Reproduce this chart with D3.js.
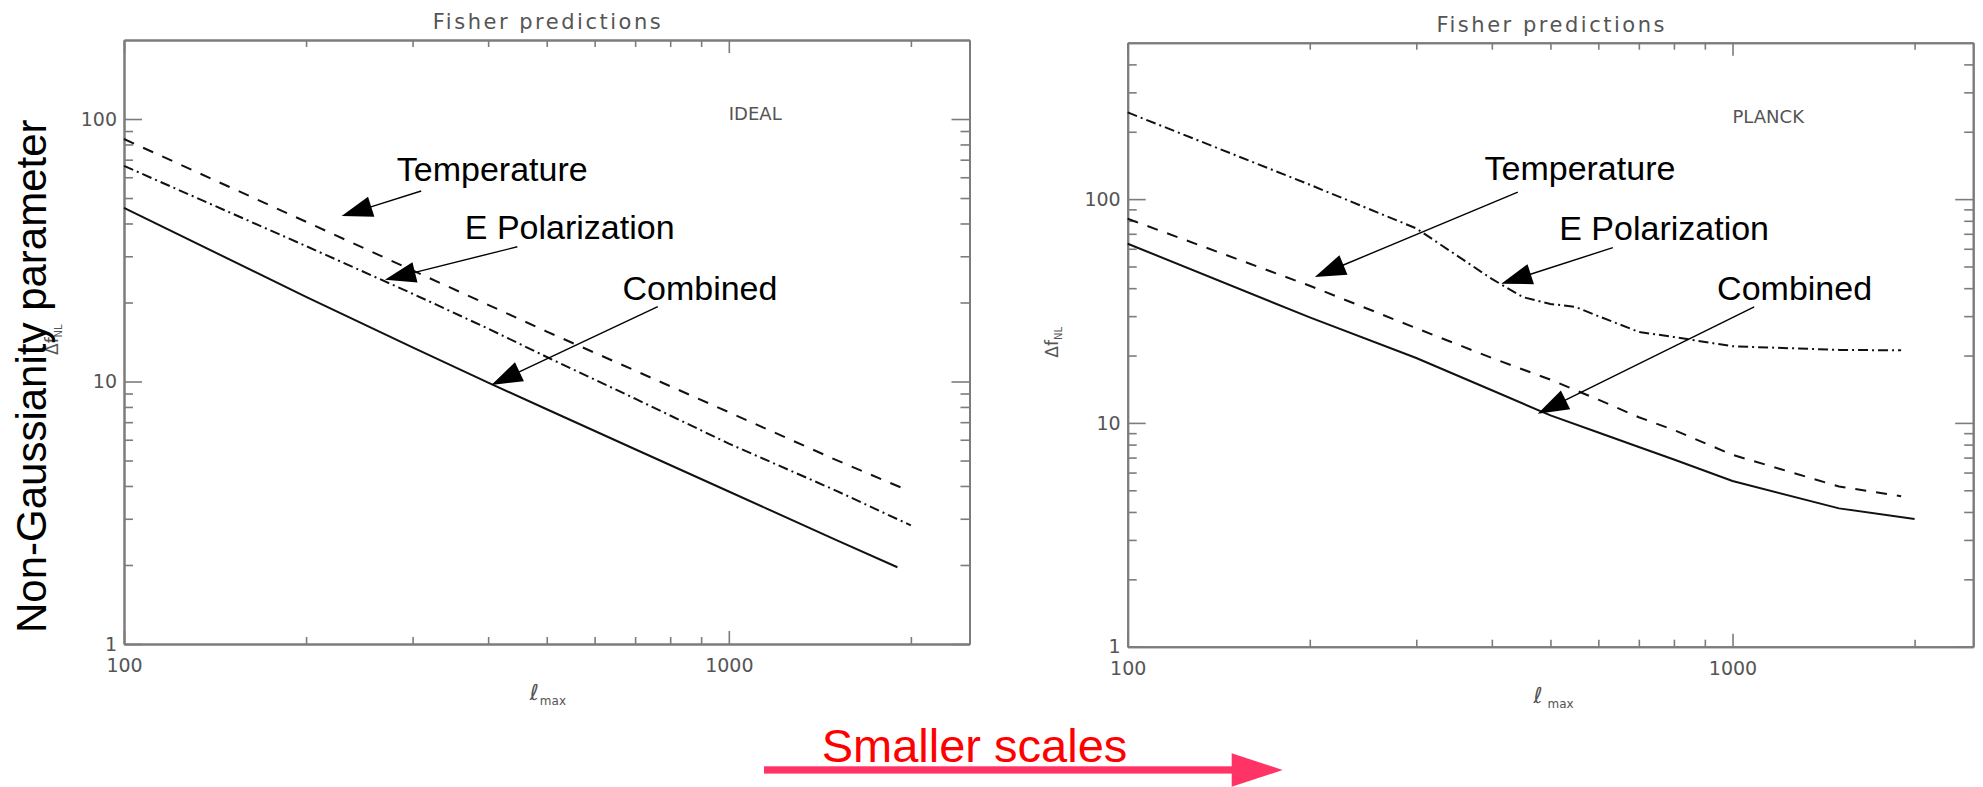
<!DOCTYPE html>
<html>
<head>
<meta charset="utf-8">
<script src="https://cdn.jsdelivr.net/npm/d3@7"></script>
<style>
  body { margin: 0; background: #fff; }
  svg { display: block; }
</style>
</head>
<body>
<svg id="fig" width="1983" height="787"></svg>
<script>
// ---------------- data: Fisher forecasts of the fNL error vs. l_max ----------------
// IDEAL experiment
const idealTempEll = [100, 200, 300, 400, 500, 700, 1000, 1500, 1950];
const idealTemp    = [83.9, 40.6, 26.5, 19.6, 15.5, 11.0, 7.64, 5.04, 3.9];
const idealEpolEll = [100, 200, 300, 400, 500, 700, 1000, 1500, 2000];
const idealEpol    = [66.3, 32.8, 21.6, 15.9, 12.4, 8.6, 5.8, 3.85, 2.83];
const idealCombEll = [100, 200, 300, 400, 500, 700, 1000, 1500, 1900];
const idealComb    = [45.9, 21.0, 13.5, 9.9, 7.84, 5.52, 3.81, 2.50, 1.96];

// PLANCK experiment
const planckTempEll = [100, 200, 300, 400, 500, 600, 700, 800, 1000, 1500, 1900];
const planckTemp    = [81.7, 41.0, 26.5, 19.5, 15.6, 12.7, 10.6, 9.3, 7.2, 5.2, 4.7];
const planckEpolEll = [100, 200, 300, 400, 450, 500, 550, 600, 700, 800, 1000, 1500, 1900];
const planckEpol    = [244, 116, 74, 44, 36.5, 34, 33, 30, 25.5, 24.2, 22, 21.2, 21.1];
const planckCombEll = [100, 200, 300, 400, 500, 600, 700, 800, 1000, 1500, 2000];
const planckComb    = [63.2, 29.6, 19.5, 14.0, 10.8, 9.06, 7.8, 6.86, 5.5, 4.15, 3.72];

// axis ticks
const xMajorTicks = [100, 1000];
const xMinorTicks = [200, 300, 400, 500, 600, 700, 800, 900, 2000];
const yMajorTicks = [1, 10, 100];
const idealYMinor  = [2, 3, 4, 5, 6, 7, 8, 9, 20, 30, 40, 50, 60, 70, 80, 90];
const planckYMinor = [2, 3, 4, 5, 6, 7, 8, 9, 20, 30, 40, 50, 60, 70, 80, 90, 200, 300, 400];

// annotation callouts: [label, text anchor (ell, value), arrow tail (ell, value), arrow tip (ell, value)]
const idealNotes = [
  ["Temperature",    [282.5, 57.9], [310, 53.2], [229, 42.7]],
  ["E Polarization", [366, 34.8],   [447, 32.6], [270, 24.4]],
  ["Combined",       [667, 20.5],   [763, 19.3], [405, 9.70]]
];
const planckNotes = [
  ["Temperature",    [389, 121.2], [441.6, 107.5], [203.9, 44.9]],
  ["E Polarization", [517, 65.4],  [634, 60.7],    [414.6, 41.9]],
  ["Combined",       [943, 35.3],  [1086, 33.0],   [476.4, 11.0]]
];

// ---------------- drawing ----------------
const svg = d3.select("#fig");
const AXIS = "#7c7c7c";
const LABEL = "#555";
const tickFont = "DejaVu Sans, sans-serif";
const noteFont = "Liberation Sans, Arial, sans-serif";

function arrow(g, tail, tip, headLen, headHalf, color, width) {
  const dx = tip[0] - tail[0], dy = tip[1] - tail[1];
  const len = Math.hypot(dx, dy);
  const ux = dx / len, uy = dy / len;
  const bx = tip[0] - ux * headLen, by = tip[1] - uy * headLen;
  g.append("line")
    .attr("x1", tail[0]).attr("y1", tail[1])
    .attr("x2", bx + ux * 2).attr("y2", by + uy * 2)
    .attr("stroke", color).attr("stroke-width", width);
  g.append("path")
    .attr("d", `M${tip[0]},${tip[1]}L${bx - uy * headHalf},${by + ux * headHalf}L${bx + uy * headHalf},${by - ux * headHalf}Z`)
    .attr("fill", color);
}

function drawPanel(cfg) {
  const W = cfg.w, H = cfg.h;
  const g = svg.append("g").attr("transform", `translate(${cfg.left},${cfg.top})`);

  const x = d3.scaleLog().domain([100, 2500]).range([0, W]);
  const y = d3.scaleLog().domain([1, cfg.yMax]).range([H, 0]);

  const fmt = d3.format("d");
  const styleAxis = sel => {
    sel.selectAll(".domain").attr("stroke", AXIS).attr("stroke-width", 2);
    sel.selectAll(".tick line").attr("stroke", AXIS).attr("stroke-width", 1.6);
    sel.selectAll(".tick text")
      .attr("fill", LABEL).attr("font-family", tickFont).attr("font-size", 19);
  };

  // left axis (labelled) + minor ticks
  g.append("g").call(d3.axisLeft(y).tickValues(yMajorTicks).tickSize(-18).tickSizeOuter(0)
      .tickPadding(7).tickFormat(fmt)).call(styleAxis);
  g.append("g").call(d3.axisLeft(y).tickValues(cfg.yMinor).tickSize(-9).tickSizeOuter(0)
      .tickFormat("")).call(styleAxis);
  // right axis mirror
  g.append("g").attr("transform", `translate(${W},0)`)
    .call(d3.axisRight(y).tickValues(yMajorTicks).tickSize(-18).tickSizeOuter(0).tickFormat(""))
    .call(styleAxis);
  g.append("g").attr("transform", `translate(${W},0)`)
    .call(d3.axisRight(y).tickValues(cfg.yMinor).tickSize(-9).tickSizeOuter(0).tickFormat(""))
    .call(styleAxis);
  // bottom axis (labelled)
  g.append("g").attr("transform", `translate(0,${H})`)
    .call(d3.axisBottom(x).tickValues(xMajorTicks).tickSize(-13).tickSizeOuter(0)
      .tickPadding(15).tickFormat(fmt)).call(styleAxis);
  g.append("g").attr("transform", `translate(0,${H})`)
    .call(d3.axisBottom(x).tickValues(xMinorTicks).tickSize(-7).tickSizeOuter(0).tickFormat(""))
    .call(styleAxis);
  // top axis mirror
  g.append("g")
    .call(d3.axisTop(x).tickValues(xMajorTicks).tickSize(-13).tickSizeOuter(0).tickFormat(""))
    .call(styleAxis);
  g.append("g")
    .call(d3.axisTop(x).tickValues(xMinorTicks).tickSize(-7).tickSizeOuter(0).tickFormat(""))
    .call(styleAxis);

  // title
  g.append("text")
    .attr("x", W / 2).attr("y", -11)
    .attr("text-anchor", "middle")
    .attr("font-family", tickFont).attr("font-size", 21)
    .attr("textLength", 228).attr("lengthAdjust", "spacing")
    .attr("fill", LABEL)
    .text("Fisher predictions");

  // experiment tag
  g.append("text")
    .attr("x", x(1000)).attr("y", 80)
    .attr("font-family", tickFont).attr("font-size", 18)
    .attr("fill", LABEL)
    .text(cfg.tag);

  // axis titles
  const yt = g.append("text")
    .attr("transform", `translate(${cfg.yTitleX},${H / 2 + 13}) rotate(-90)`)
    .attr("font-family", tickFont).attr("fill", LABEL).attr("font-size", 17);
  yt.append("tspan").text("Δf");
  yt.append("tspan").attr("font-size", 10).attr("dy", 4).text("NL");

  const xt = g.append("text")
    .attr("x", W / 2 - 17).attr("y", H + 56)
    .attr("font-family", tickFont).attr("fill", LABEL);
  xt.append("tspan").attr("font-size", 22).attr("font-style", "italic").text("ℓ");
  xt.append("tspan").attr("font-size", 12).attr("dx", cfg.subGap).attr("dy", 5).text("max");

  // curves
  const line = d3.line().x(d => x(d[0])).y(d => y(d[1]));
  const series = [
    { ell: cfg.tempEll, v: cfg.temp, dash: "11,10" },
    { ell: cfg.epolEll, v: cfg.epol, dash: "10,4,2,4" },
    { ell: cfg.combEll, v: cfg.comb, dash: null }
  ];
  series.forEach(s => {
    g.append("path")
      .datum(d3.zip(s.ell, s.v))
      .attr("d", line)
      .attr("fill", "none")
      .attr("stroke", "#111")
      .attr("stroke-width", 2)
      .attr("stroke-dasharray", s.dash);
  });

  // callouts
  cfg.notes.forEach(([label, at, tail, tip]) => {
    g.append("text")
      .attr("x", x(at[0])).attr("y", y(at[1]))
      .attr("font-family", noteFont).attr("font-size", 34)
      .attr("fill", "#000")
      .text(label);
    arrow(g, [x(tail[0]), y(tail[1])], [x(tip[0]), y(tip[1])], 31, 10.5, "#000", 1.4);
  });
}

drawPanel({
  left: 124, top: 40, w: 845.5, h: 604, yMax: 200, yMinor: idealYMinor, tag: "IDEAL",
  yTitleX: -66, subGap: 1,
  tempEll: idealTempEll, temp: idealTemp,
  epolEll: idealEpolEll, epol: idealEpol,
  combEll: idealCombEll, comb: idealComb,
  notes: idealNotes
});

drawPanel({
  left: 1127.7, top: 42.7, w: 845.5, h: 604, yMax: 500, yMinor: planckYMinor, tag: "PLANCK",
  yTitleX: -70, subGap: 5,
  tempEll: planckTempEll, temp: planckTemp,
  epolEll: planckEpolEll, epol: planckEpol,
  combEll: planckCombEll, comb: planckComb,
  notes: planckNotes
});

// shared vertical caption
svg.append("text")
  .attr("transform", "translate(45.5,633) rotate(-90)")
  .attr("font-family", noteFont).attr("font-size", 42)
  .attr("fill", "#000")
  .text("Non-Gaussianity parameter");

// direction hint under the panels
svg.append("text")
  .attr("x", 821.7).attr("y", 761.7)
  .attr("font-family", noteFont).attr("font-size", 47)
  .attr("fill", "#ff0000")
  .text("Smaller scales");
const hint = svg.append("g");
hint.append("rect")
  .attr("x", 764).attr("y", 766.3).attr("width", 470).attr("height", 7.3)
  .attr("fill", "#ff3366");
hint.append("path")
  .attr("d", "M1231.7,753.3L1282.7,770L1231.7,786.7Z")
  .attr("fill", "#ff3366");
</script>
</body>
</html>
